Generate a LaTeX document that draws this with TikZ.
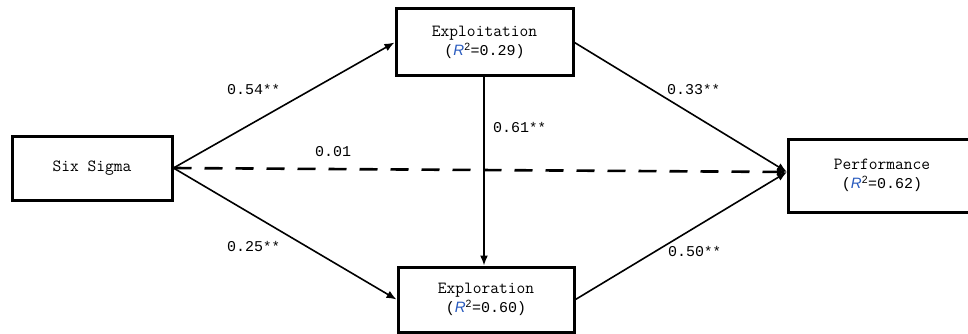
\documentclass[tikz,border=0pt]{standalone}
\usepackage{fontspec}
\setmainfont{Liberation Mono}
\newfontfamily\labfont{Liberation Sans}
\usetikzlibrary{arrows.meta}
\definecolor{rblue}{RGB}{40,90,190}
\newcommand{\rsq}{{\labfont\itshape\color{rblue}R}\textsuperscript{\labfont 2}}
\newcommand{\sig}[1]{#1{\fontsize{14}{14}\selectfont**}}
\begin{document}
\begin{tikzpicture}[x=1pt,y=-1pt,
  varbox/.style={draw, line width=3pt, fill=white, align=center,
    font=\ttfamily\fontsize{17}{19}\selectfont, inner sep=0pt},
  path/.style={line width=1.6pt, -{Latex[length=10pt,width=8pt]}},
  coef/.style={font=\fontsize{15}{15}\selectfont, inner sep=0pt}]
\useasboundingbox (0,0) rectangle (968,334);

\node[varbox, minimum width=160pt, minimum height=64pt] (six) at (92,168) {Six Sigma};
\node[varbox, minimum width=177pt, minimum height=67pt] (exploit) at (484.5,42.5) {Exploitation\\{\rmfamily\fontsize{15}{15}\selectfont(\rsq=0.29)}};
\node[varbox, minimum width=176pt, minimum height=65pt] (explore) at (486,299.5) {Exploration\\{\rmfamily\fontsize{15}{15}\selectfont(\rsq=0.60)}};
\node[varbox, minimum width=188pt, minimum height=73pt] (perf) at (882,175.5) {Performance\\{\rmfamily\fontsize{15}{15}\selectfont(\rsq=0.62)}};

\coordinate (pin) at (787,172);

\draw[path] (six.east) -- (exploit.west);
\draw[path] (six.east) -- (explore.west);
\draw[path] (exploit.south -| 484,0) -- (explore.north -| 484,0);
\draw[path] (exploit.east) -- (pin);
\draw[path] (explore.east) -- (pin);
\draw[path, line width=2.6pt, dash pattern=on 18pt off 13pt] (six.east) -- (pin);

\node[coef, anchor=west] (c1) at (227,90) {\sig{0.54}};
\node[coef, anchor=west] (c2) at (227,247) {\sig{0.25}};
\node[coef, anchor=west] (c3) at (493,128) {\sig{0.61}};
\node[coef, anchor=west] (c4) at (667,90) {\sig{0.33}};
\node[coef, anchor=west] (c5) at (668,252) {\sig{0.50}};
\node[coef, anchor=west] (c6) at (315,152) {0.01};
\end{tikzpicture}
\end{document}
